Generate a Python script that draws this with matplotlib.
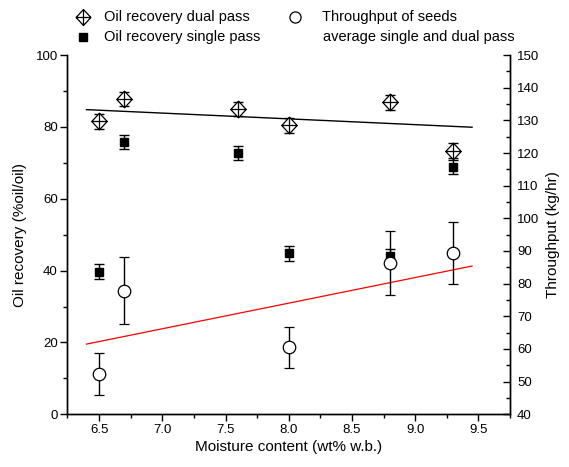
import numpy as np
import matplotlib
matplotlib.use("Agg")
import matplotlib.pyplot as plt
from matplotlib.path import Path
from matplotlib.lines import Line2D
from matplotlib.ticker import MultipleLocator

plt.rcParams['font.family'] = ['Liberation Sans', 'DejaVu Sans']

# oil recovery, dual pass (left axis)
x_dual = [6.5, 6.7, 7.6, 8.0, 8.8, 9.3]
y_dual = [81.5, 87.7, 85.0, 80.4, 86.8, 73.4]
e_dual = [2.0, 2.0, 2.0, 2.0, 2.0, 2.0]

# oil recovery, single pass (left axis)
x_single = [6.5, 6.7, 7.6, 8.0, 8.8, 9.3]
y_single = [39.7, 75.8, 72.7, 44.8, 44.1, 68.8]
e_single = [2.0, 1.9, 2.0, 2.0, 2.0, 2.0]

# throughput of seeds (right axis)
x_thr = [6.5, 6.7, 8.0, 8.8, 9.3]
y_thr = [52.3, 77.8, 60.5, 86.4, 89.3]
e_thr = [6.4, 10.3, 6.2, 9.8, 9.5]

# trend lines (end points)
trend_x = [6.4, 9.45]
trend_dual = [84.8, 79.9]
trend_thr = [61.5, 85.4]

# diamond with a cross inside
diamond = Path(
    [(0, 1.08), (1, 0), (0, -1.08), (-1, 0), (0, 1.08),
     (-1, 0), (1, 0), (0, 1.08), (0, -1.08)],
    [Path.MOVETO, Path.LINETO, Path.LINETO, Path.LINETO, Path.CLOSEPOLY,
     Path.MOVETO, Path.LINETO, Path.MOVETO, Path.LINETO])

fig = plt.figure(figsize=(5.69, 4.67), dpi=100)
ax = fig.add_axes([0.1186, 0.1128, 0.7777, 0.7694])
ax2 = ax.twinx()

ax.plot(trend_x, trend_dual, color='black', lw=1.0, zorder=1)
ax.errorbar(x_dual, y_dual, yerr=e_dual, fmt='none', ecolor='black',
            elinewidth=1, capsize=3.5, capthick=1, zorder=2)
ax.plot(x_dual, y_dual, ls='none', marker=diamond, ms=12, mfc='white',
        mec='black', mew=0.9, zorder=3)
ax.errorbar(x_single, y_single, yerr=e_single, fmt='s', ms=6.3,
            color='black', ecolor='black', elinewidth=1, capsize=3.5,
            capthick=1, zorder=3)

ax2.plot(trend_x, trend_thr, color='red', lw=0.9, zorder=1)
ax2.errorbar(x_thr, y_thr, yerr=e_thr, fmt='o', ms=9, mfc='white',
             mec='black', mew=0.9, ecolor='black', elinewidth=1,
             capsize=3.5, capthick=1, zorder=3)

ax.set_xlim(6.25, 9.75)
ax.set_ylim(0, 100)
ax2.set_ylim(40, 150)

ax.set_xticks(np.arange(6.5, 9.51, 0.5))
ax.set_xticklabels(['%.1f' % v for v in np.arange(6.5, 9.51, 0.5)])
ax.xaxis.set_minor_locator(MultipleLocator(0.25))
ax.yaxis.set_major_locator(MultipleLocator(20))
ax.yaxis.set_minor_locator(MultipleLocator(10))
ax2.yaxis.set_major_locator(MultipleLocator(10))
ax2.yaxis.set_minor_locator(MultipleLocator(5))

for a in (ax, ax2):
    a.spines['top'].set_visible(False)
    for s in a.spines.values():
        s.set_linewidth(1.0)

ax.tick_params(axis='both', which='major', direction='out', length=5,
               width=1, labelsize=9.5, pad=2)
ax.tick_params(axis='both', which='minor', direction='out', length=3, width=1)
ax2.tick_params(axis='y', which='major', direction='in', length=5, width=1,
                labelsize=9.5, pad=5)
ax2.tick_params(axis='y', which='minor', direction='in', length=3, width=1)

ax.set_xlabel('Moisture content (wt% w.b.)', fontsize=11, labelpad=3)
ax.set_ylabel('Oil recovery (%oil/oil)', fontsize=11, labelpad=6)
ax2.set_ylabel('Throughput (kg/hr)', fontsize=11, labelpad=5)

# legend above the plot
tf = fig.transFigure
fig.add_artist(Line2D([0.1459], [0.9636], transform=tf, ls='none',
                      marker=diamond, ms=11.5, mfc='white', mec='black', mew=0.9))
fig.add_artist(Line2D([0.1459], [0.9208], transform=tf, ls='none',
                      marker='s', ms=6.3, color='black'))
fig.add_artist(Line2D([0.519], [0.9636], transform=tf, ls='none',
                      marker='o', ms=8, mfc='white', mec='black', mew=0.9))
fig.text(0.182, 0.9636, 'Oil recovery dual pass', fontsize=10.5, va='center')
fig.text(0.182, 0.9208, 'Oil recovery single pass', fontsize=10.5, va='center')
fig.text(0.566, 0.9636, 'Throughput of seeds', fontsize=10.5, va='center')
fig.text(0.568, 0.9208, 'average single and dual pass', fontsize=10.5,
         va='center')

fig.savefig('out.png', dpi=100)
